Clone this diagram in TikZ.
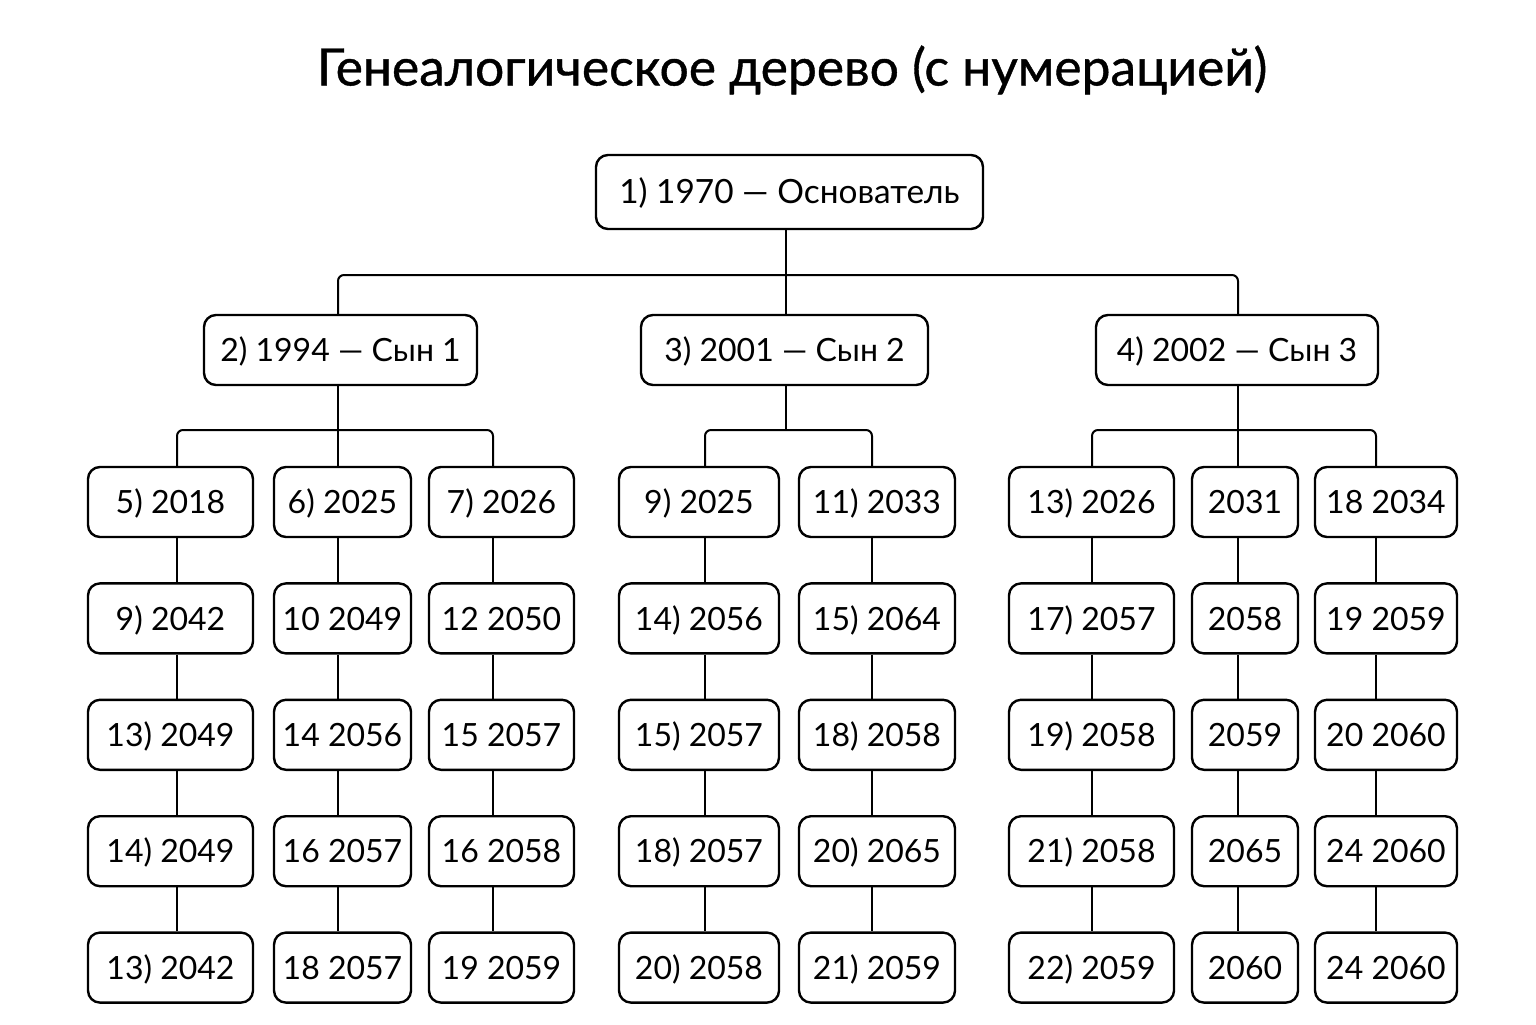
\documentclass[tikz,border=0pt]{standalone}
\usepackage{fontspec}
\setmainfont{Lato}
\newfontfamily\titlefont{Lato}[FakeBold=0.8]
\begin{document}
\begin{tikzpicture}[x=0.5pt,y=-0.5pt,
  box/.style={draw, rounded corners=6pt, line width=1.2pt, minimum height=35pt, inner sep=0pt, text height=13.6pt, text depth=2pt, font=\fontsize{16}{19}\selectfont},
  link/.style={line width=1pt, rounded corners=3pt}]
\useasboundingbox (0,0) rectangle (1536,1024);
\node[font=\titlefont\fontsize{25.8}{30}\selectfont] (title) at (792,70) {Генеалогическое дерево (с нумерацией)};
% root and sons
\node[box, minimum width=193.5pt, minimum height=37pt, font=\fontsize{16.7}{20}\selectfont] (root) at (789.5,192) {1) 1970 — Основатель};
\node[box, minimum width=136.5pt] (s1) at (340.5,350) {2) 1994 — Сын 1};
\node[box, minimum width=143.5pt] (s2) at (784.5,350) {3) 2001 — Сын 2};
\node[box, minimum width=141pt] (s3) at (1237,350) {4) 2002 — Сын 3};
% line positions
\coordinate (LA) at (177,0);
\coordinate (LB) at (338,0);
\coordinate (LC) at (493,0);
\coordinate (LD) at (705,0);
\coordinate (LE) at (872,0);
\coordinate (LF) at (1092,0);
\coordinate (LG) at (1238,0);
\coordinate (LH) at (1376,0);
\coordinate (LR) at (786,0);
\coordinate (j0) at (786,275);
\coordinate (j1) at (338,430);
\coordinate (j2) at (786,430);
\coordinate (j3) at (1238,430);
% grandchildren columns
\foreach \c/\cx/\w/\t in {
  A/170.5/82.5/{5) 2018,9) 2042,13) 2049,14) 2049,13) 2042},
  B/342.5/68.5/{6) 2025,10 2049,14 2056,16 2057,18 2057},
  C/501.5/72.5/{7) 2026,12 2050,15 2057,16 2058,19 2059},
  D/699/80/{9) 2025,14) 2056,15) 2057,18) 2057,20) 2058},
  E/877/78/{11) 2033,15) 2064,18) 2058,20) 2065,21) 2059},
  F/1091.5/82.5/{13) 2026,17) 2057,19) 2058,21) 2058,22) 2059},
  G/1245/53/{2031,2058,2059,2065,2060},
  H/1386/71/{18 2034,19 2059,20 2060,24 2060,24 2060}}{
  \foreach \lab [count=\i] in \t {
    \pgfmathsetmacro\cy{502+(\i-1)*116.4}
    \node[box, minimum width=\w pt] (\c\i) at (\cx,\cy) {\lab};
  }
  \foreach \i in {1,...,4}{
    \pgfmathtruncatemacro\j{\i+1}
    \draw[link] (\c\i.south -| L\c) -- (\c\j.north -| L\c);
  }
}
% root to sons
\draw[link] (root.south -| LR) -- (j0);
\draw[link] (s1.north -| LB) |- (j0) -| (s3.north -| LG);
\draw[link] (j0) -- (s2.north -| LR);
% son 1
\draw[link] (s1.south -| LB) -- (B1.north -| LB);
\draw[link] (A1.north -| LA) |- (j1) -| (C1.north -| LC);
% son 2
\draw[link] (s2.south -| LR) -- (j2);
\draw[link] (D1.north -| LD) |- (j2) -| (E1.north -| LE);
% son 3
\draw[link] (s3.south -| LG) -- (G1.north -| LG);
\draw[link] (F1.north -| LF) |- (j3) -| (H1.north -| LH);
\end{tikzpicture}
\end{document}
